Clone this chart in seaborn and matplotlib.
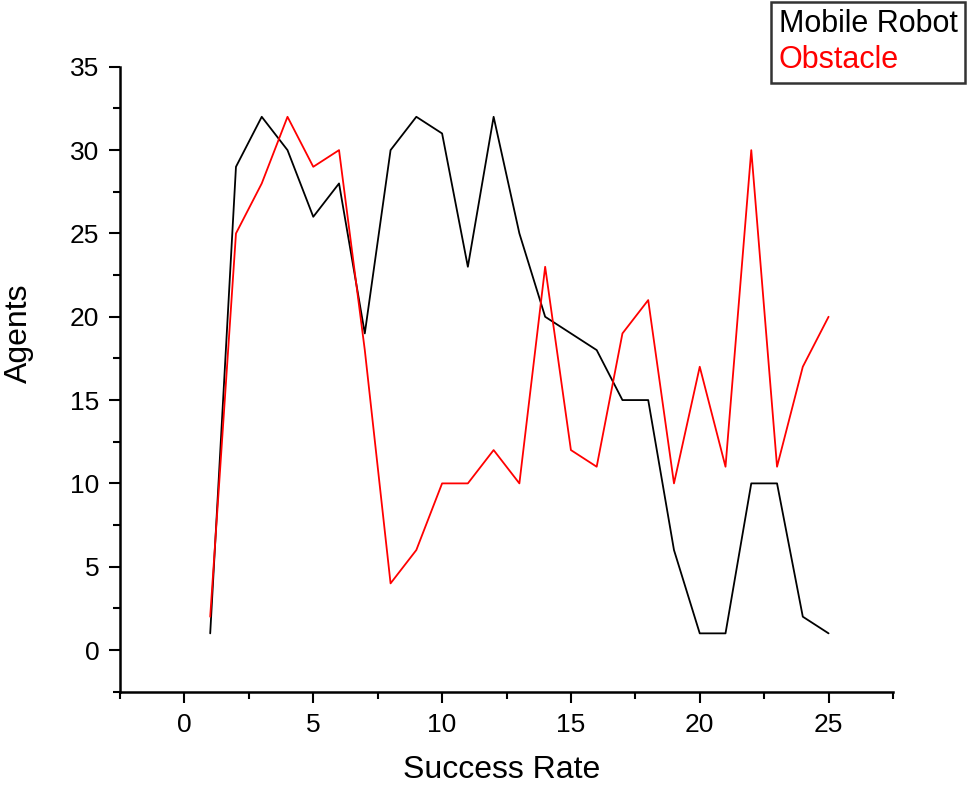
import numpy as np
import pandas as pd
import matplotlib
matplotlib.use("Agg")
import matplotlib.pyplot as plt
import seaborn as sns
from matplotlib.lines import Line2D

x_vals = list(range(1, 26))
mobile_robot = [1, 29, 32, 30, 26, 28, 19, 30, 32, 31, 23, 32, 25, 20, 19, 18, 15, 15, 6, 1, 1, 10, 10, 2, 1]
obstacle = [2, 25, 28, 32, 29, 30, 18, 4, 6, 10, 10, 12, 10, 23, 12, 11, 19, 21, 10, 17, 11, 30, 11, 17, 20]
series_names = ["Mobile Robot", "Obstacle"]
colors = ["#000000", "#ff0000"]

df = pd.DataFrame({
    "Success Rate": x_vals * 2,
    "Agents": mobile_robot + obstacle,
    "series": [series_names[0]] * len(x_vals) + [series_names[1]] * len(x_vals),
})

sns.set_style("ticks")
plt.rcParams['font.family'] = ['Liberation Sans', 'DejaVu Sans']

fig = plt.figure(figsize=(9.68, 7.86), dpi=100)
ax = fig.add_axes([0.124, 0.12, 0.7985, 0.795])

sns.lineplot(data=df, x="Success Rate", y="Agents", hue="series",
             palette=dict(zip(series_names, colors)), linewidth=1.3,
             ax=ax, legend=False, sort=False)

ax.set_xlim(-2.5, 27.5)
ax.set_ylim(-2.5, 35)
ax.set_xticks([0, 5, 10, 15, 20, 25])
ax.set_yticks([0, 5, 10, 15, 20, 25, 30, 35])
ax.set_xticks(np.arange(-2.5, 28, 5), minor=True)
ax.set_yticks(np.arange(-2.5, 35, 5), minor=True)
ax.tick_params(axis="both", which="major", direction="out", length=8, width=1.5,
               labelsize=19, color="black", labelcolor="black")
ax.tick_params(axis="x", which="major", pad=7)
ax.tick_params(axis="y", which="major", pad=7)
ax.tick_params(axis="both", which="minor", direction="out", length=5, width=1.5,
               color="black")
for s in ["top", "right"]:
    ax.spines[s].set_visible(False)
for s in ["left", "bottom"]:
    ax.spines[s].set_linewidth(1.8)
    ax.spines[s].set_color("black")

ax.set_xlabel("Success Rate", fontsize=23, color="black")
ax.set_ylabel("Agents", fontsize=23, color="black")
ax.xaxis.set_label_coords(0.494, -0.102)
ax.yaxis.set_label_coords(-0.111, 0.574)

handles = [Line2D([], [], linestyle="none") for _ in series_names]
leg = fig.legend(handles, series_names, loc="upper right",
                 bbox_to_anchor=(0.997, 0.998), fontsize=22,
                 handlelength=0, handletextpad=0, fancybox=False,
                 frameon=True, borderpad=0.25, labelspacing=0.2,
                 borderaxespad=0)
leg.get_frame().set_edgecolor("black")
leg.get_frame().set_linewidth(1.8)
for t, c in zip(leg.get_texts(), colors):
    t.set_color(c)

fig.savefig("out.png", dpi=100)
